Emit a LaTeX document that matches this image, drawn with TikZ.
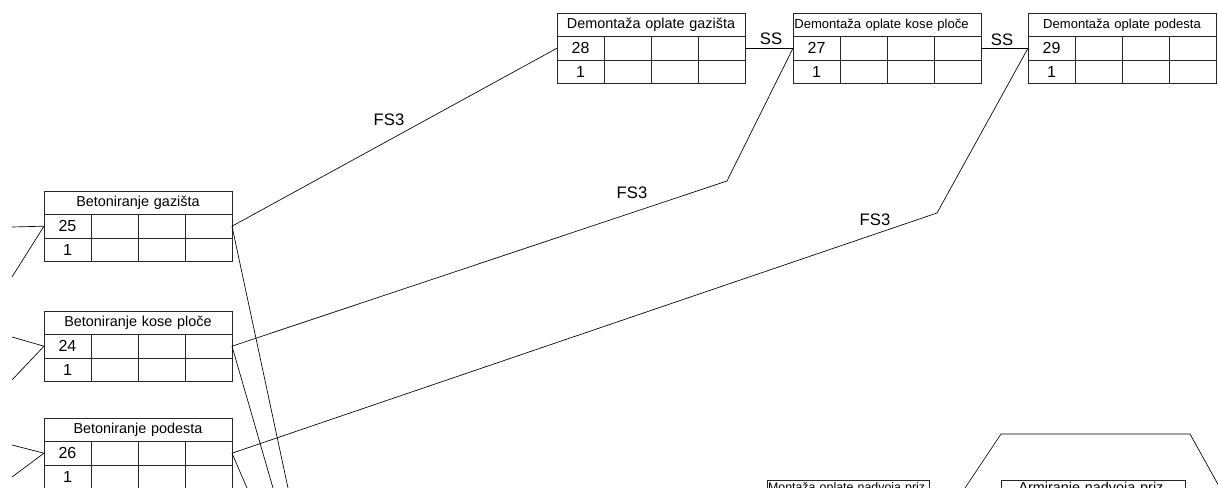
\documentclass[tikz,border=0pt]{standalone}
\usepackage{fontspec}
\setmainfont{Liberation Sans}
\usetikzlibrary{positioning}

% one activity box: [title options], id, x, y (top left), title, number
\newcommand{\activity}[6][]{%
  \node[atitle, anchor=north west, #1] (#2t) at (#3,#4) {#5};
  \node[acell, anchor=north west] (#2n) at (#2t.south west) {#6};
  \node[acell, right=0pt of #2n] (#2a) {};
  \node[acell, right=0pt of #2a] (#2b) {};
  \node[acell, right=0pt of #2b] (#2c) {};
  \node[acell, below=0pt of #2n] (#2d) {1};
  \node[acell, right=0pt of #2d] (#2e) {};
  \node[acell, right=0pt of #2e] (#2f) {};
  \node[acell, right=0pt of #2f] (#2g) {};
}

\begin{document}
\begin{tikzpicture}[
            x=0.75pt, y=-0.75pt,
            atitle/.style={
                rectangle,
                draw=black!85,
                line width=0.6pt,
                outer sep=0pt,
                inner xsep=1pt,
                minimum width=141pt,
                minimum height=17.6pt,
                text width=139pt,
                align=center,
                font=\fontsize{10.8}{12}\selectfont
            },
            acell/.style={
                rectangle,
                draw=black!85,
                line width=0.6pt,
                outer sep=0pt,
                inner sep=0pt,
                minimum width=35.25pt,
                minimum height=17.6pt,
                font=\fontsize{12}{14}\selectfont
            },
            link/.style={
                line width=0.5pt,
                black
            },
            lbl/.style={
                font=\fontsize{12.5}{14}\selectfont
            }
        ]
            \useasboundingbox (0,0) rectangle (1218,488);
            \clip (0,0) rectangle (1218,488);

            % Define activities
            \activity{25}{44}{191}{Betoniranje gazišta}{25}
            \activity{24}{44}{311}{Betoniranje kose ploče}{24}
            \activity{26}{44}{418}{Betoniranje podesta}{26}
            \activity{28}{557}{13}{Demontaža oplate gazišta}{28}
            \activity[align=left, font=\fontsize{9.8}{11}\selectfont]{27}{793}{13}{Demontaža oplate kose ploče}{27}
            \activity[font=\fontsize{9.8}{11}\selectfont]{29}{1028}{13}{Demontaža oplate podesta}{29}
            \node[atitle, anchor=north west, minimum width=122pt, text width=121pt, inner xsep=0.5pt, inner ysep=1pt, minimum height=13pt, font=\fontsize{9.3}{11}\selectfont] (mont) at (767,480) {\mbox{Montaža oplate nadvoja priz.}};
            \node[atitle, anchor=north west, minimum width=138pt, text width=136pt, inner ysep=1pt, minimum height=13pt] (armi) at (1001,480) {\mbox{Armiranje nadvoja priz.}};

            % Bends and free ends
            \coordinate (k27) at (727,181);
            \coordinate (k29) at (937,213);
            \coordinate (in25a) at (12,227);
            \coordinate (in25b) at (12,277);
            \coordinate (in24a) at (12,337);
            \coordinate (in24b) at (12,380);
            \coordinate (in26a) at (12,445);
            \coordinate (in26b) at (12,477);
            \coordinate (out25) at (288,488);
            \coordinate (out24) at (273,488);
            \coordinate (out26) at (247,488);
            \coordinate (p1) at (965,488);
            \coordinate (p2) at (1001,434);
            \coordinate (p3) at (1190,434);
            \coordinate (p4) at (1220,488);

            % Draw edges
            \draw[link] (25c.east) -- (28n.west);
            \draw[link] (24c.east) -- (k27) -- (27n.west);
            \draw[link] (26c.east) -- (k29) -- (29n.west);
            \draw[link] (28c.east) -- (27n.west);
            \draw[link] (27c.east) -- (29n.west);
            \draw[link] (in25a) -- (25n.west);
            \draw[link] (in25b) -- (25n.west);
            \draw[link] (in24a) -- (24n.west);
            \draw[link] (in24b) -- (24n.west);
            \draw[link] (in26a) -- (26n.west);
            \draw[link] (in26b) -- (26n.west);
            \draw[link] (25c.east) -- (out25);
            \draw[link] (24c.east) -- (out24);
            \draw[link] (26c.east) -- (out26);
            \draw[link] (p1) -- (p2) -- (p3) -- (p4);

            % Labels
            \node[lbl] (fs28) at (389,120) {FS3};
            \node[lbl] (fs27) at (632,193) {FS3};
            \node[lbl] (fs29) at (875,220) {FS3};
            \node[lbl] (ss27) at (771,39) {SS};
            \node[lbl] (ss29) at (1002,40) {SS};
        \end{tikzpicture}
\end{document}
